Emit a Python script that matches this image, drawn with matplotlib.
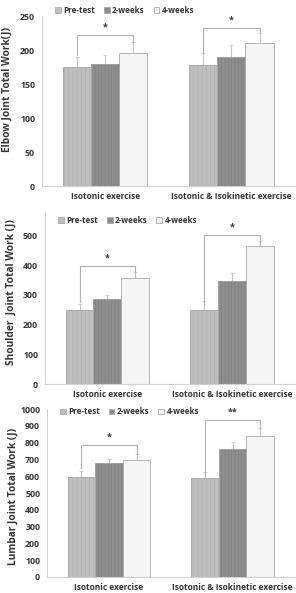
import matplotlib
matplotlib.use("Agg")
import matplotlib.pyplot as plt
from matplotlib.patches import Patch
import numpy as np

plt.rcParams['font.family'] = ['Open Sans', 'DejaVu Sans']
plt.rcParams['hatch.linewidth'] = 0.4

groups = ["Isotonic exercise", "Isotonic & Isokinetic exercise"]
series = ["Pre-test", "2-weeks", "4-weeks"]

# elbow joint
elbow_mean = [[175, 179, 195], [178, 190, 210]]
elbow_err = [[15, 14, 17], [17, 18, 15]]
# shoulder joint
shoulder_mean = [[248, 287, 355], [250, 348, 463]]
shoulder_err = [[22, 13, 20], [28, 24, 17]]
# lumbar joint
lumbar_mean = [[598, 680, 695], [590, 760, 840]]
lumbar_err = [[34, 25, 35], [35, 45, 45]]

# significance brackets: (group, top, left leg end, right leg end, label)
elbow_sig = [(0, 222, 193, 212, "*"), (1, 232, 196, 226, "*")]
shoulder_sig = [(0, 398, 277, 375, "*"), (1, 502, 266, 480, "*")]
lumbar_sig = [(0, 786, 649, 730, "*"), (1, 935, 607, 888, "**")]

face = ["#bfbfbf", "#8e8e8e", "#f5f5f5"]
hatch_col = ["#adadad", "#7c7c7c", "#f5f5f5"]
hatches = ["||||", "|||||", ""]
txt = "#333333"
line = "#b0b0b0"

fig = plt.figure(figsize=(2.96, 5.93), dpi=100)

# rect, means, errors, brackets, ylabel, ylim, yticks, label y, legend y
panels = [
    ([0.142, 0.686, 0.853, 0.287], elbow_mean, elbow_err, elbow_sig,
     "Elbow Joint Total Work(J)", (0, 250), np.arange(0, 251, 50), 0.57, 1.08),
    ([0.152, 0.352, 0.843, 0.289], shoulder_mean, shoulder_err, shoulder_sig,
     "Shoulder  Joint Total Work (J)", (0, 575), np.arange(0, 501, 100), 0.54, 1.0),
    ([0.159, 0.027, 0.836, 0.283], lumbar_mean, lumbar_err, lumbar_sig,
     "Lumbar Joint Total Work (J)", (0, 1000), np.arange(0, 1001, 100), 0.48, 1.03),
]

w = 0.223
x = np.arange(len(groups))
for rect, mean, err, sig, ylab, ylim, yt, lab_y, leg_y in panels:
    ax = fig.add_axes(rect)
    mean = np.array(mean)
    err = np.array(err)
    for i in range(3):
        pos = x + (i - 1) * w
        ax.errorbar(pos, mean[:, i], yerr=[np.zeros(2), err[:, i]], fmt="none",
                    ecolor="#c4c4c4", elinewidth=0.8, capsize=1.2, capthick=0.6, zorder=1)
        ax.bar(pos, mean[:, i], w, color=face[i], edgecolor=hatch_col[i],
               hatch=hatches[i], linewidth=0, zorder=2)
        ax.bar(pos, mean[:, i], w, fill=False, edgecolor="#a8a8a8",
               linewidth=0.6, zorder=3)
    for g, top, l_end, r_end, lab in sig:
        xl, xr = g - w, g + w
        ax.plot([xl, xl, xr, xr], [l_end, top, top, r_end], color=line, lw=0.8, zorder=4)
        ax.text(g, top + (ylim[1] * 0.02), lab, ha="center", va="bottom",
                fontsize=6.5, fontweight="bold", color=txt)
    ax.set_xlim(-0.5, 1.5)
    ax.set_ylim(*ylim)
    ax.set_yticks(yt)
    ax.set_xticks(x)
    ax.set_xticklabels(groups, fontsize=6, fontweight="bold", color=txt)
    ax.tick_params(axis="x", length=0, pad=4)
    ax.tick_params(axis="y", length=0, labelsize=6.3, colors=txt, pad=5)
    for lbl in ax.get_yticklabels():
        lbl.set_fontweight("bold")
    ax.set_ylabel(ylab, fontsize=7.3, fontweight="bold", color=txt)
    ax.yaxis.set_label_coords(-0.115, lab_y)
    for s in ["top", "right"]:
        ax.spines[s].set_visible(False)
    for s in ["left", "bottom"]:
        ax.spines[s].set_color("#d0d0d0")
        ax.spines[s].set_linewidth(0.8)
    handles = [Patch(facecolor=face[i], edgecolor="#a8a8a8", linewidth=0.6,
                     label=series[i]) for i in range(3)]
    leg = ax.legend(handles=handles, loc="upper left", bbox_to_anchor=(0.04, leg_y),
                    ncol=3, frameon=False, fontsize=5.8, handlelength=0.7,
                    handleheight=0.7, handletextpad=0.3, columnspacing=1.1,
                    borderaxespad=0)
    for t in leg.get_texts():
        t.set_fontweight("bold")
        t.set_color(txt)

fig.savefig("out.png", dpi=100)
